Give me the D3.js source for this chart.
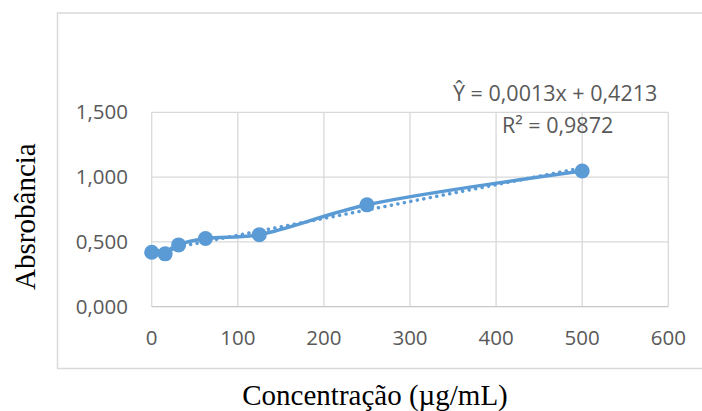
<!DOCTYPE html>
<html>
<head>
<meta charset="utf-8">
<script src="https://cdn.jsdelivr.net/npm/d3@7"></script>
<style>
  body { margin: 0; background: #fff; }
  svg { display: block; }
</style>
</head>
<body>
<svg id="chart" width="702" height="411"></svg>
<script>
// concentration (ug/mL) and absorbance
var concentracao = [0, 15.625, 31.25, 62.5, 125, 250, 500];
var absorbancia = [0.420, 0.408, 0.477, 0.526, 0.556, 0.786, 1.047];
var xTicks = [0, 100, 200, 300, 400, 500, 600];
var yTicks = [0, 0.5, 1.0, 1.5];
var slope = 0.0013, intercept = 0.4213;
var eqLabel = "Ŷ = 0,0013x + 0,4213";
var r2Label = "R² = 0,9872";

var blue = "#5b9bd5";
var grid = "#d9d9d9";
var txt = "#595959";

var svg = d3.select("svg#chart");

// chart border (runs off the right edge like the original)
svg.append("rect")
  .attr("x", 57.5).attr("y", 13)
  .attr("width", 700).attr("height", 355.5)
  .attr("fill", "#fff")
  .attr("stroke", grid)
  .attr("stroke-width", 1.5);

var x = d3.scaleLinear().domain([0, 600]).range([151.7, 668.3]);
var y = d3.scaleLinear().domain([0, 1.5]).range([306.7, 112.3]);

var fmt = function(v){ return d3.format(".3f")(v).replace(".", ","); };

// gridlines
svg.append("g").selectAll("line.vg")
  .data(xTicks)
  .enter().append("line")
  .attr("x1", d => x(d)).attr("x2", d => x(d))
  .attr("y1", y(1.5)).attr("y2", y(0))
  .attr("stroke", grid).attr("stroke-width", 1.3);

svg.append("g").selectAll("line.hg")
  .data(yTicks)
  .enter().append("line")
  .attr("x1", x(0)).attr("x2", x(600))
  .attr("y1", d => y(d)).attr("y2", d => y(d))
  .attr("stroke", d => d === 0 ? "#c8c8c8" : grid).attr("stroke-width", 1.3);

// tick labels
svg.append("g").selectAll("text")
  .data(xTicks)
  .enter().append("text")
  .attr("x", d => x(d))
  .attr("y", 345)
  .attr("text-anchor", "middle")
  .style("font-family", "'Open Sans', sans-serif")
  .style("font-size", "20.5px")
  .style("fill", txt)
  .text(d => d);

svg.append("g").selectAll("text")
  .data(yTicks)
  .enter().append("text")
  .attr("x", 128)
  .attr("y", d => y(d) + 7)
  .attr("text-anchor", "end")
  .style("font-family", "'Open Sans', sans-serif")
  .style("font-size", "20.5px")
  .style("fill", txt)
  .text(d => fmt(d));

var pts = concentracao.map((c, i) => [c, absorbancia[i]]);

// linear trendline, dotted
svg.append("line")
  .attr("x1", x(0)).attr("y1", y(intercept))
  .attr("x2", x(500)).attr("y2", y(intercept + slope * 500))
  .attr("stroke", blue)
  .attr("stroke-width", 3.5)
  .attr("stroke-linecap", "round")
  .attr("stroke-dasharray", "0.1 6.5");

// smoothed series line
var line = d3.line()
  .x(d => x(d[0]))
  .y(d => y(d[1]))
  .curve(d3.curveCatmullRom.alpha(0.5));

svg.append("path")
  .datum(pts)
  .attr("d", line)
  .attr("fill", "none")
  .attr("stroke", blue)
  .attr("stroke-width", 3.5)
  .attr("stroke-linejoin", "round");

svg.append("g").selectAll("circle")
  .data(pts)
  .enter().append("circle")
  .attr("cx", d => x(d[0]))
  .attr("cy", d => y(d[1]))
  .attr("r", 7.5)
  .attr("fill", blue);

// equation labels
svg.append("text")
  .attr("x", 453).attr("y", 101)
  .style("font-family", "'Open Sans', sans-serif")
  .style("font-size", "21.5px")
  .style("fill", txt)
  .text(eqLabel);

svg.append("text")
  .attr("x", 502).attr("y", 133)
  .style("font-family", "'Open Sans', sans-serif")
  .style("font-size", "21.5px")
  .style("fill", txt)
  .text(r2Label);

// axis titles
svg.append("text")
  .attr("x", 375).attr("y", 405)
  .attr("text-anchor", "middle")
  .style("font-family", "'Liberation Serif', 'Times New Roman', serif")
  .style("font-size", "29px")
  .style("fill", "#000")
  .text("Concentração (µg/mL)");

svg.append("text")
  .attr("transform", "translate(35, 216.6) rotate(-90)")
  .attr("text-anchor", "middle")
  .style("font-family", "'Liberation Serif', 'Times New Roman', serif")
  .style("font-size", "29px")
  .style("fill", "#000")
  .text("Absrobância");
</script>
</body>
</html>
